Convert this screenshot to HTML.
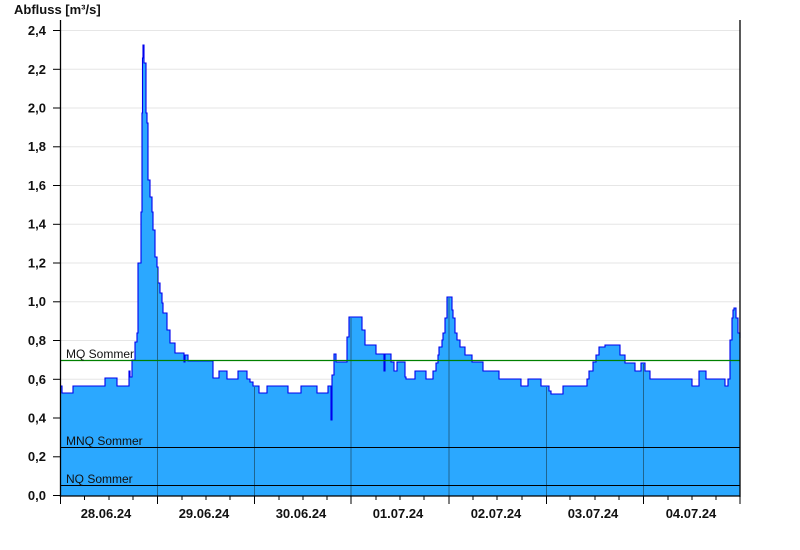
<!DOCTYPE html>
<html><head><meta charset="utf-8"><style>
html,body{margin:0;padding:0;background:#fff;}
svg{display:block;font-family:"Liberation Sans",Arial,sans-serif;}
</style></head><body>
<svg width="800" height="550" viewBox="0 0 800 550" xmlns="http://www.w3.org/2000/svg">
<rect width="800" height="550" fill="#fff"/>
<text x="14" y="14" font-size="13" font-weight="bold" fill="#111">Abfluss [m³/s]</text>
<g stroke="#e6e6e6" stroke-width="1">
<line x1="60" x2="740" y1="30.5" y2="30.5"/><line x1="60" x2="740" y1="69.3" y2="69.3"/>
<line x1="60" x2="740" y1="108" y2="108"/><line x1="60" x2="740" y1="146.8" y2="146.8"/>
<line x1="60" x2="740" y1="185.5" y2="185.5"/><line x1="60" x2="740" y1="224.3" y2="224.3"/>
<line x1="60" x2="740" y1="263" y2="263"/><line x1="60" x2="740" y1="301.8" y2="301.8"/>
<line x1="60" x2="740" y1="340.5" y2="340.5"/><line x1="60" x2="740" y1="379.3" y2="379.3"/>
<line x1="60" x2="740" y1="418" y2="418"/><line x1="60" x2="740" y1="456.8" y2="456.8"/>
</g>
<path fill="#2ba8ff" stroke="none" d="M60,496 V386 H62 V393 H73 V386 H105 V378 H117 V386 H129 V371 H130 V377 H132 V360 H135 V342 H137 V333 H138 V263 H141 V212 H142 V113 H142.5 V58 H143 V45 H144 V63 H146 V113 H147 V123 H148 V180 H150 V197 H152 V212 H153 V230 H155 V257 H157 V267 H158 V283 H160 V293 H162 V303 H163 V313 H167 V330 H170 V343 H175 V353 H184 V362 H185 V355 H187 V355 H188 V361 H213 V378 H219 V371 H227 V379 H238 V371 H247 V379 H250 V382 H253 V386 H259 V393 H267 V386 H288 V393 H301 V386 H317 V393 H328 V386 H331 V420 H332 V375 H334 V354 H336 V362 H345 V362 H347 V337 H349 V317 H359 V317 H362 V330 H365 V345 H374 V345 H376 V354 H383 V354 H384 V371 H385 V354 H389 V354 H391 V362 H394 V371 H397 V362 H400 V362 H405 V377 H406 V379 H415 V371 H426 V379 H433 V371 H436 V363 H438 V355 H439 V347 H442 V340 H443 V333 H445 V318 H447 V297 H451 V297 H452 V310 H453 V318 H455 V333 H457 V340 H460 V347 H465 V355 H472 V362 H483 V371 H499 V379 H521 V386 H528 V379 H541 V386 H549 V391 H551 V394 H563 V386 H587 V379 H589 V371 H593 V362 H596 V355 H599 V347 H605 V345 H620 V355 H625 V363 H635 V371 H641 V363 H645 V371 H650 V379 H692 V386 H699 V371 H706 V379 H725 V386 H728 V379 H730 V340 H732 V318 H733 V310 H734 V308 H736 V318 H738 V333 H740 V338 V496 Z"/>
<path fill="none" stroke="#0000ee" stroke-width="1.1" d="M60,386 H62 V393 H73 V386 H105 V378 H117 V386 H129 V371 H130 V377 H132 V360 H135 V342 H137 V333 H138 V263 H141 V212 H142 V113 H142.5 V58 H143 V45 H144 V63 H146 V113 H147 V123 H148 V180 H150 V197 H152 V212 H153 V230 H155 V257 H157 V267 H158 V283 H160 V293 H162 V303 H163 V313 H167 V330 H170 V343 H175 V353 H184 V362 H185 V355 H187 V355 H188 V361 H213 V378 H219 V371 H227 V379 H238 V371 H247 V379 H250 V382 H253 V386 H259 V393 H267 V386 H288 V393 H301 V386 H317 V393 H328 V386 H331 V420 H332 V375 H334 V354 H336 V362 H345 V362 H347 V337 H349 V317 H359 V317 H362 V330 H365 V345 H374 V345 H376 V354 H383 V354 H384 V371 H385 V354 H389 V354 H391 V362 H394 V371 H397 V362 H400 V362 H405 V377 H406 V379 H415 V371 H426 V379 H433 V371 H436 V363 H438 V355 H439 V347 H442 V340 H443 V333 H445 V318 H447 V297 H451 V297 H452 V310 H453 V318 H455 V333 H457 V340 H460 V347 H465 V355 H472 V362 H483 V371 H499 V379 H521 V386 H528 V379 H541 V386 H549 V391 H551 V394 H563 V386 H587 V379 H589 V371 H593 V362 H596 V355 H599 V347 H605 V345 H620 V355 H625 V363 H635 V371 H641 V363 H645 V371 H650 V379 H692 V386 H699 V371 H706 V379 H725 V386 H728 V379 H730 V340 H732 V318 H733 V310 H734 V308 H736 V318 H738 V333 H740 V338"/>
<g stroke="#1f6590" stroke-width="1">
<line x1="157.5" x2="157.5" y1="268" y2="496"/><line x1="254.5" x2="254.5" y1="387" y2="496"/>
<line x1="351" x2="351" y1="318" y2="496"/><line x1="449" x2="449" y1="298" y2="496"/>
<line x1="546.5" x2="546.5" y1="387" y2="496"/><line x1="643.5" x2="643.5" y1="364" y2="496"/>
</g>
<line x1="60" x2="740" y1="360.5" y2="360.5" stroke="#008000" stroke-width="1.2"/>
<line x1="60" x2="740" y1="447.5" y2="447.5" stroke="#000" stroke-width="1"/>
<line x1="60" x2="740" y1="485.5" y2="485.5" stroke="#000" stroke-width="1"/>
<g font-size="12" fill="#111">
<text x="66" y="358">MQ Sommer</text>
<text x="66" y="445">MNQ Sommer</text>
<text x="66" y="483">NQ Sommer</text>
</g>
<g stroke="#000" stroke-width="1.3">
<line x1="60.5" x2="60.5" y1="20" y2="497"/>
<line x1="740" x2="740" y1="20" y2="497"/>
<line x1="60" x2="740" y1="496" y2="496"/>
</g>
<g stroke="#000" stroke-width="1">
<line x1="53" x2="60" y1="30.5" y2="30.5"/><line x1="53" x2="60" y1="69.3" y2="69.3"/>
<line x1="53" x2="60" y1="108" y2="108"/><line x1="53" x2="60" y1="146.8" y2="146.8"/>
<line x1="53" x2="60" y1="185.5" y2="185.5"/><line x1="53" x2="60" y1="224.3" y2="224.3"/>
<line x1="53" x2="60" y1="263" y2="263"/><line x1="53" x2="60" y1="301.8" y2="301.8"/>
<line x1="53" x2="60" y1="340.5" y2="340.5"/><line x1="53" x2="60" y1="379.3" y2="379.3"/>
<line x1="53" x2="60" y1="418" y2="418"/><line x1="53" x2="60" y1="456.8" y2="456.8"/>
<line x1="53" x2="60" y1="495.5" y2="495.5"/>
<line x1="60.5" x2="60.5" y1="496" y2="504"/><line x1="157.5" x2="157.5" y1="496" y2="504"/>
<line x1="254.5" x2="254.5" y1="496" y2="504"/><line x1="351" x2="351" y1="496" y2="504"/>
<line x1="449" x2="449" y1="496" y2="504"/><line x1="546.5" x2="546.5" y1="496" y2="504"/>
<line x1="643.5" x2="643.5" y1="496" y2="504"/><line x1="740" x2="740" y1="496" y2="504"/>
<line x1="84.5" x2="84.5" y1="496" y2="500"/><line x1="109" x2="109" y1="496" y2="500"/><line x1="133" x2="133" y1="496" y2="500"/>
<line x1="182" x2="182" y1="496" y2="500"/><line x1="206" x2="206" y1="496" y2="500"/><line x1="230" x2="230" y1="496" y2="500"/>
<line x1="279" x2="279" y1="496" y2="500"/><line x1="303" x2="303" y1="496" y2="500"/><line x1="327" x2="327" y1="496" y2="500"/>
<line x1="376" x2="376" y1="496" y2="500"/><line x1="400" x2="400" y1="496" y2="500"/><line x1="424" x2="424" y1="496" y2="500"/>
<line x1="473" x2="473" y1="496" y2="500"/><line x1="497" x2="497" y1="496" y2="500"/><line x1="522" x2="522" y1="496" y2="500"/>
<line x1="570" x2="570" y1="496" y2="500"/><line x1="595" x2="595" y1="496" y2="500"/><line x1="619" x2="619" y1="496" y2="500"/>
<line x1="668" x2="668" y1="496" y2="500"/><line x1="692" x2="692" y1="496" y2="500"/><line x1="716" x2="716" y1="496" y2="500"/>
</g>
<g font-size="13" font-weight="bold" fill="#111" text-anchor="end">
<text x="46" y="35">2,4</text><text x="46" y="74">2,2</text><text x="46" y="112.5">2,0</text>
<text x="46" y="151">1,8</text><text x="46" y="190">1,6</text><text x="46" y="228.5">1,4</text>
<text x="46" y="267.5">1,2</text><text x="46" y="306">1,0</text><text x="46" y="345">0,8</text>
<text x="46" y="384">0,6</text><text x="46" y="422.5">0,4</text><text x="46" y="461">0,2</text>
<text x="46" y="500">0,0</text>
</g>
<g font-size="13" font-weight="bold" fill="#111" text-anchor="middle">
<text x="106" y="518">28.06.24</text><text x="204" y="518">29.06.24</text><text x="301" y="518">30.06.24</text>
<text x="398" y="518">01.07.24</text><text x="496" y="518">02.07.24</text><text x="593" y="518">03.07.24</text>
<text x="691" y="518">04.07.24</text>
</g>
</svg>
</body></html>
